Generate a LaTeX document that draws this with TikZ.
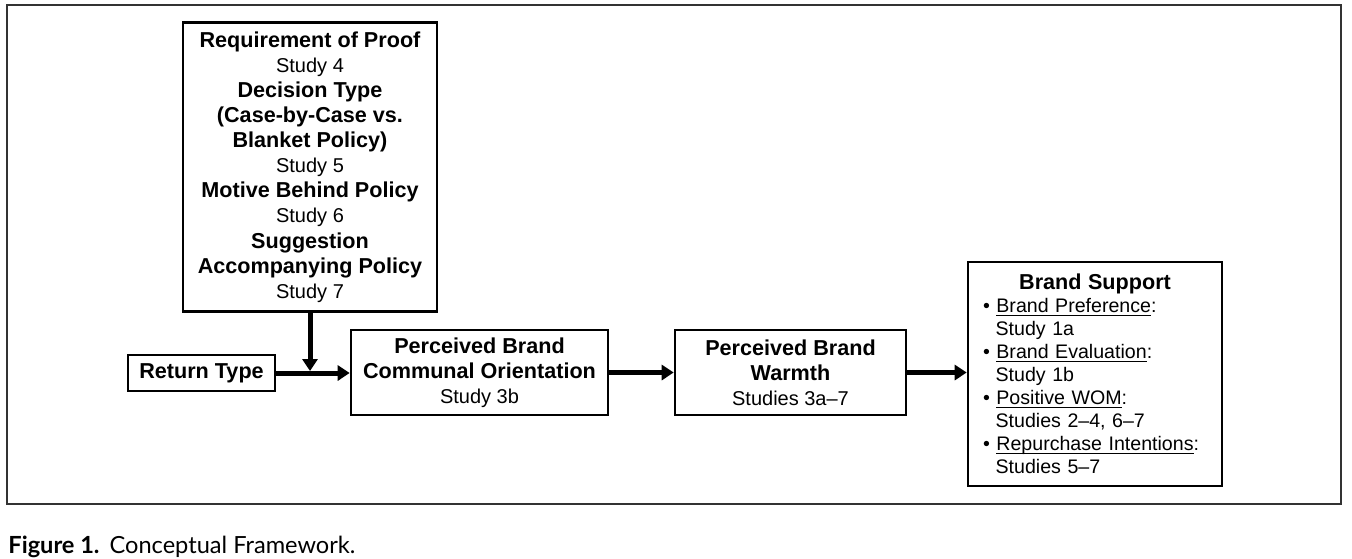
\documentclass[tikz,border=0pt]{standalone}
\usepackage{fontspec}
\setmainfont{Liberation Sans}
\newfontfamily\capfont{Lato}
\usetikzlibrary{arrows.meta}
\newcommand\st[1]{{\mdseries\fontsize{10}{12.55}\selectfont #1}}
\newcommand\ulin[1]{\underline{\smash{#1}}}
\newcommand\bsind{\hspace*{6.3pt}}
\begin{document}
\begin{tikzpicture}[x=0.5pt,y=-0.5pt,
box/.style={%
draw,
line width=1.3pt,
align=center,
inner sep=0pt,
font=\fontsize{10.8}{12.55}\selectfont\bfseries
},
arr/.style={%
line width=2.5pt,
-{Triangle[length=6pt,width=7.5pt]}
}
]
\useasboundingbox(0,0)rectangle(1352,558);
%% Frame
\draw[line width=0.6pt,black!80](7,5)rectangle(1341,504);
%% Moderators
\node[box,minimum width=127pt,minimum height=144.5pt]at(310,167)(mod){Requirement of Proof\\\st{Study 4}\\Decision Type\\(Case-by-Case vs.\\Blanket Policy)\\\st{Study 5}\\Motive Behind Policy\\\st{Study 6}\\Suggestion\\Accompanying Policy\\\st{Study 7}};
%% Chain
\node[box,minimum width=73.5pt,minimum height=18pt]at(201.5,373)(ret){Return Type};
\node[box,minimum width=128.5pt,minimum height=42.5pt]at(479.5,372.5)(pbco){Perceived Brand\\Communal Orientation\\\st{Study 3b}};
\node[box,minimum width=115.5pt,minimum height=42.5pt]at(790.5,372.5)(pbw){Perceived Brand\\Warmth\\\st{Studies 3a--7}};
%% Outcomes
\node[box,align=left,text width=112pt,inner xsep=7.5pt,minimum height=112pt,
font=\fontsize{9.8}{11.5}\selectfont]at(1095,374)(bs){%
\makebox[\linewidth]{\fontsize{10.8}{11.5}\selectfont\bfseries Brand Support}\\
•\ \ulin{Brand Preference}:\\
\bsind Study 1a\\
•\ \ulin{Brand Evaluation}:\\
\bsind Study 1b\\
•\ \ulin{Positive WOM}:\\
\bsind Studies 2--4, 6--7\\
•\ \ulin{Repurchase Intentions}:\\
\bsind Studies 5--7};
%% Arrows
\coordinate(join)at(310,371);
\draw[arr](ret.east)--(ret.east-|pbco.west);
\draw[arr](mod.south)--(join);
\draw[arr](pbco.east)--(pbco.east-|pbw.west);
\draw[arr](pbw.east)--(pbw.east-|bs.west);
%% Caption
\node[anchor=base west,inner sep=0pt,font=\capfont\fontsize{11.8}{13}\selectfont]at(8,553)(cap){\textbf{Figure 1.}\hspace{5pt}Conceptual Framework.};
\end{tikzpicture}
\end{document}
